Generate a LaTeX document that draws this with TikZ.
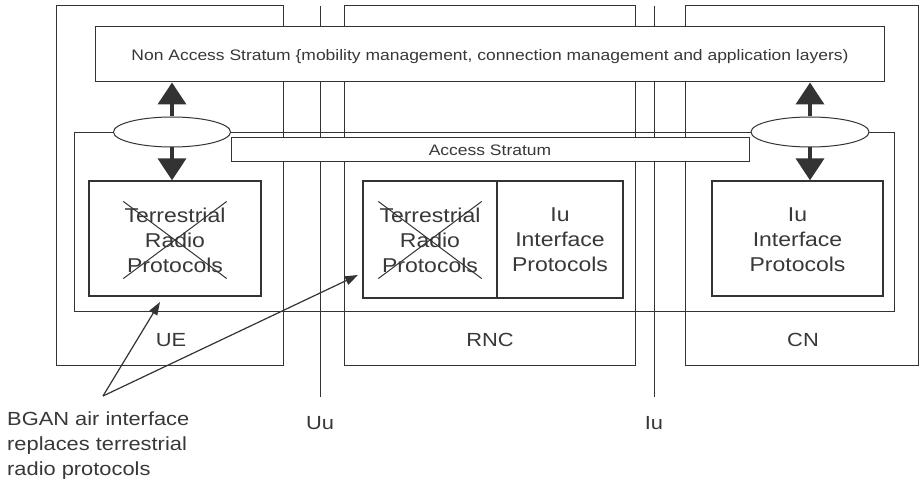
\documentclass[tikz,border=0pt]{standalone}
\usepackage{fontspec}
\setmainfont{Liberation Sans}
\newfontfamily\wf[FakeStretch=1.15]{Liberation Sans}
\usetikzlibrary{arrows.meta,shapes.geometric}
\definecolor{ink}{gray}{0.2}
\definecolor{txt}{gray}{0.22}
\begin{document}
\begin{tikzpicture}[x=1pt,y=-1pt,
  box/.style={draw=ink, line width=1pt, inner sep=0pt, rectangle},
  wbox/.style={box, fill=white},
  ibox/.style={draw=ink, line width=1.4pt, inner sep=0pt, rectangle},
  bigtxt/.style={text=txt, font=\wf\fontsize{19}{25}\selectfont, align=center, inner sep=0pt},
  boxtxt/.style={text=txt, font=\wf\fontsize{20}{25}\selectfont, align=center, inner sep=0pt},
  smalltxt/.style={text=txt, font=\wf\fontsize{15.2}{18}\selectfont, inner sep=0pt},
  fatarrow/.style={draw=ink, line width=4pt, -{Triangle[width=28pt,length=22pt]}},
  thinarrow/.style={draw=ink, line width=1.2pt, -{Triangle[width=9pt,length=13pt]}},
  xline/.style={draw=ink, line width=1pt}]
\useasboundingbox (0,0) rectangle (922,484);
% outer boxes
\node[box, minimum width=227, minimum height=359] (ue) at (169.5,185.5) {};
\node[box, minimum width=291, minimum height=359] (rnc) at (489.5,185.5) {};
\node[box, minimum width=233, minimum height=359] (cn) at (801.5,185.5) {};
% interface lines
\coordinate (uutop) at (320,6);
\coordinate (uubot) at (320,397);
\coordinate (iutop) at (654,6);
\coordinate (iubot) at (654,397);
\draw[ink, line width=1pt] (uutop) -- (uubot);
\draw[ink, line width=1pt] (iutop) -- (iubot);
% big access stratum frame
\node[box, minimum width=820, minimum height=178] (asframe) at (484,222) {};
% access stratum strip
\node[wbox, minimum width=518, minimum height=24, smalltxt] (as) at (490,150) {Access Stratum};
% non access stratum
\node[wbox, minimum width=789, minimum height=55] (nas) at (489.5,54.5) {};
\node[smalltxt] (nastxt) at (490,57) {Non Access Stratum \{mobility management, connection management and application layers)};
% ellipses
\node[draw=ink, line width=1pt, fill=white, ellipse, minimum width=117, minimum height=30, inner sep=0pt] (lell) at (172,132) {};
\node[draw=ink, line width=1pt, fill=white, ellipse, minimum width=118, minimum height=30, inner sep=0pt] (rell) at (810,132) {};
% inner boxes
\node[ibox, minimum width=172, minimum height=115] (uein) at (175,238.5) {};
\node[ibox, minimum width=134, minimum height=117] (rncl) at (430,239.5) {};
\node[ibox, minimum width=126, minimum height=117] (rncr) at (560,239.5) {};
\node[ibox, minimum width=171, minimum height=115] (cnin) at (797.5,238.5) {};
% inner texts
\node[boxtxt] (uetxt) at (175,240) {Terrestrial\\Radio\\Protocols};
\node[boxtxt] (rnctxt) at (430,240) {Terrestrial\\Radio\\Protocols};
\node[boxtxt] (rncrtxt) at (560,240) {Iu\\Interface\\Protocols};
\node[boxtxt] (cntxt) at (797.5,240) {Iu\\Interface\\Protocols};
% crossing out
\draw[xline] ([shift={(-1,-6)}]uetxt.north west) -- ([shift={(1,6)}]uetxt.south east);
\draw[xline] ([shift={(1,-6)}]uetxt.north east) -- ([shift={(-1,6)}]uetxt.south west);
\draw[xline] ([shift={(-1,-6)}]rnctxt.north west) -- ([shift={(1,6)}]rnctxt.south east);
\draw[xline] ([shift={(1,-6)}]rnctxt.north east) -- ([shift={(-1,6)}]rnctxt.south west);
% fat arrows
\draw[fatarrow] (lell.north) -- (lell.north |- nas.south);
\draw[fatarrow] (lell.south) -- (lell.south |- uein.north);
\draw[fatarrow] (rell.north) -- (rell.north |- nas.south);
\draw[fatarrow] (rell.south) -- (rell.south |- cnin.north);
% labels
\node[bigtxt] (uelbl) at (171,340) {UE};
\node[bigtxt] (rnclbl) at (490,340) {RNC};
\node[bigtxt] (cnlbl) at (803,340) {CN};
\node[bigtxt] (uulbl) at (320,423) {Uu};
\node[bigtxt] (iulbl) at (654,423) {Iu};
\node[bigtxt, align=left, anchor=north west] (bgan) at (7,412) {BGAN air interface\\replaces terrestrial\\radio protocols};
% pointer arrows
\coordinate (bganpt) at (103,396);
\coordinate (uetip) at (160,302);
\coordinate (rnctip) at (358,275);
\draw[thinarrow] (bganpt) -- (uetip);
\draw[thinarrow] (bganpt) -- (rnctip);
\end{tikzpicture}
\end{document}
